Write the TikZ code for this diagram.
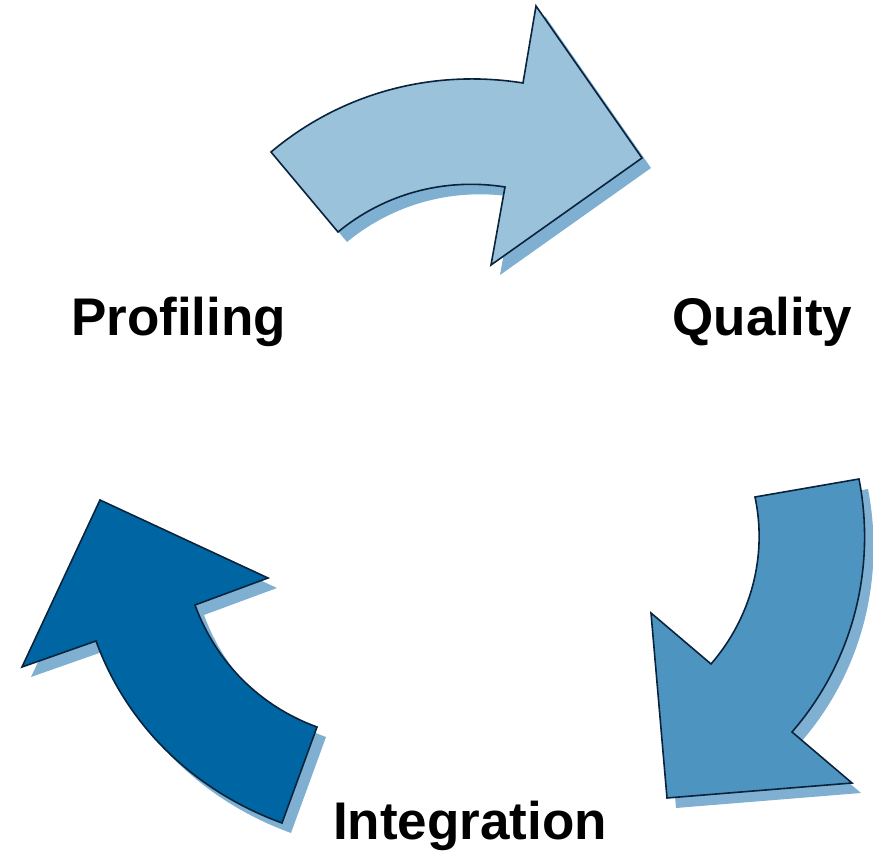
\documentclass[tikz,border=0pt]{standalone}
\usepackage{fontspec}
\setmainfont{Liberation Sans}
\usepackage{xcolor}
\usepackage{tikz}
\definecolor{paleblue}{RGB}{154, 194, 219}
\definecolor{midblue}{RGB}{78, 148, 193}
\definecolor{deepblue}{RGB}{0, 102, 163}
\definecolor{shadowblue}{RGB}{127, 176, 210}
\definecolor{navyline}{RGB}{10, 35, 60}

\begin{document}
\begin{tikzpicture}[
    x=1pt, y=1pt,
    font=\fontsize{53}{62}\selectfont\bfseries,
    % Style definitions
    cyclearrow/.style={draw=navyline, line width=1.6pt, line join=miter, looseness=0.9,
        preaction={fill=shadowblue, transform canvas={xshift=9pt, yshift=-10pt}}},
    steplabel/.style={anchor=base, inner sep=0pt}
]
    \useasboundingbox (0,0) rectangle (873,853);

    % === ARROWS: outer arc, head, inner arc ===
    \path [cyclearrow, fill=paleblue] (271,701) to[out=40, in=171] (523,770) -- (536,847) -- (642,695)
        -- (491,588) -- (505,666) to[out=171, in=39.5] (338,621) -- cycle;
    \path [cyclearrow, fill=midblue] (859,374) to[out=-79, in=49] (792,121) -- (852,70) -- (667,55)
        -- (651,240) -- (711,189) to[out=49, in=-78] (755,356) -- cycle;
    \path [cyclearrow, fill=deepblue] (282,30) to[out=160, in=-70] (96,212) -- (22,186) -- (100,353)
        -- (268,275) -- (195,248) to[out=-70, in=160] (317,126) -- cycle;

    % === LABELS ===
    \node (profiling) [steplabel] at (178.5,517) {Profiling};
    \node (quality) [steplabel] at (762.5,517) {Quality};
    \node (integration) [steplabel] at (470,13) {Integration};

\end{tikzpicture}
\end{document}
